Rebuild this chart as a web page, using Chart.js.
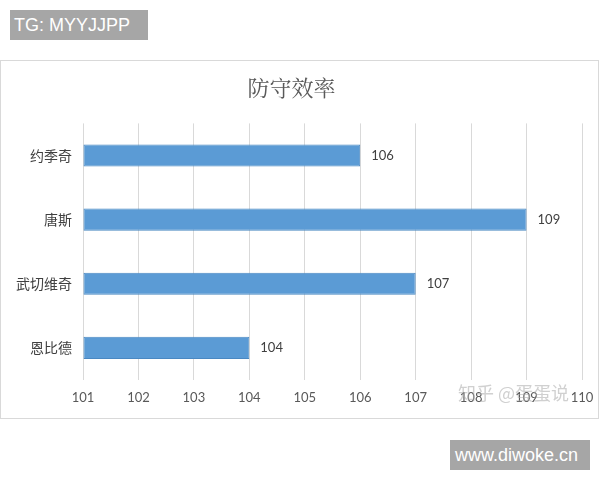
<!DOCTYPE html>
<html>
<head>
<meta charset="utf-8">
<script src="https://cdn.jsdelivr.net/npm/chart.js@4"></script>
<style>
    body { margin: 0; width: 600px; height: 480px; background: #fff; position: relative; overflow: hidden; }
    .tag { position: absolute; background: #a6a6a6; color: #fff; font: 18px "Liberation Sans", Arial, sans-serif; line-height: 30px; height: 30px; box-sizing: border-box; }
    #tg { left: 10px; top: 10px; width: 138px; padding-left: 4px; }
    #site { left: 450px; top: 440px; width: 140px; padding-left: 5px; }
    #box { position: absolute; left: 0; top: 60px; width: 597px; height: 357px; border: 1px solid #d9d9d9; }
    #mark { position: absolute; left: 458px; top: 379px; font: 18px "Noto Sans CJK SC", sans-serif; color: rgba(170,170,170,0.55); }
</style>
</head>
<body>
<div class="tag" id="tg">TG: MYYJJPP</div>
<div id="box"><canvas id="effChart" width="597" height="357"></canvas></div>
<div id="mark">知乎 @蛋蛋说</div>
<div class="tag" id="site">www.diwoke.cn</div>
<script>
const players = ['约季奇', '唐斯', '武切维奇', '恩比德'];
const defRating = [106, 109, 107, 104];
const axisMin = 101;
const axisMax = 110;

const numFont = 'Lato, "Noto Sans CJK SC", sans-serif';

// nhan gia tri o cuoi moi thanh
const valueLabels = {
    id: 'valueLabels',
    afterDatasetsDraw(chart) {
        const ctx = chart.ctx;
        const meta = chart.getDatasetMeta(0);
        ctx.save();
        ctx.font = '13px ' + numFont;
        ctx.fillStyle = '#404040';
        ctx.textAlign = 'left';
        ctx.textBaseline = 'middle';
        meta.data.forEach((bar, i) => {
            ctx.fillText(String(defRating[i]), bar.x + 11, bar.y);
        });
        ctx.restore();
    }
};

new Chart(document.getElementById('effChart').getContext('2d'), {
    type: 'bar',
    data: {
        labels: players,
        datasets: [{
            data: defRating,
            base: axisMin,
            backgroundColor: '#5b9bd5',
            borderColor: '#4a88c2',
            borderWidth: 1,
            borderSkipped: false,
            categoryPercentage: 1,
            barPercentage: 0.345
        }]
    },
    options: {
        indexAxis: 'y',
        responsive: false,
        animation: false,
        layout: { padding: { left: 0, right: 16, top: 0, bottom: 0 } },
        plugins: {
            legend: { display: false },
            tooltip: { enabled: false },
            title: {
                display: true,
                text: '防守效率',
                color: '#595959',
                font: { size: 22, weight: 'normal', family: '"Noto Serif CJK SC", "Noto Sans CJK SC", serif' },
                padding: { top: 13, bottom: 23 }
            }
        },
        scales: {
            x: {
                min: axisMin,
                max: axisMax,
                ticks: {
                    stepSize: 1,
                    padding: 0,
                    color: '#595959',
                    font: { size: 13, family: numFont }
                },
                grid: { color: '#d9d9d9', drawTicks: true, tickLength: 10, tickColor: 'rgba(0,0,0,0)' },
                border: { display: false },
                afterFit(scale) { scale.height = 38; }
            },
            y: {
                ticks: {
                    padding: 11,
                    color: '#404040',
                    font: { size: 14, family: '"Noto Sans CJK SC", sans-serif' }
                },
                grid: { display: false, drawTicks: false },
                border: { display: false },
                afterFit(scale) { scale.width = 82; }
            }
        }
    },
    plugins: [valueLabels]
});
</script>
</body>
</html>
